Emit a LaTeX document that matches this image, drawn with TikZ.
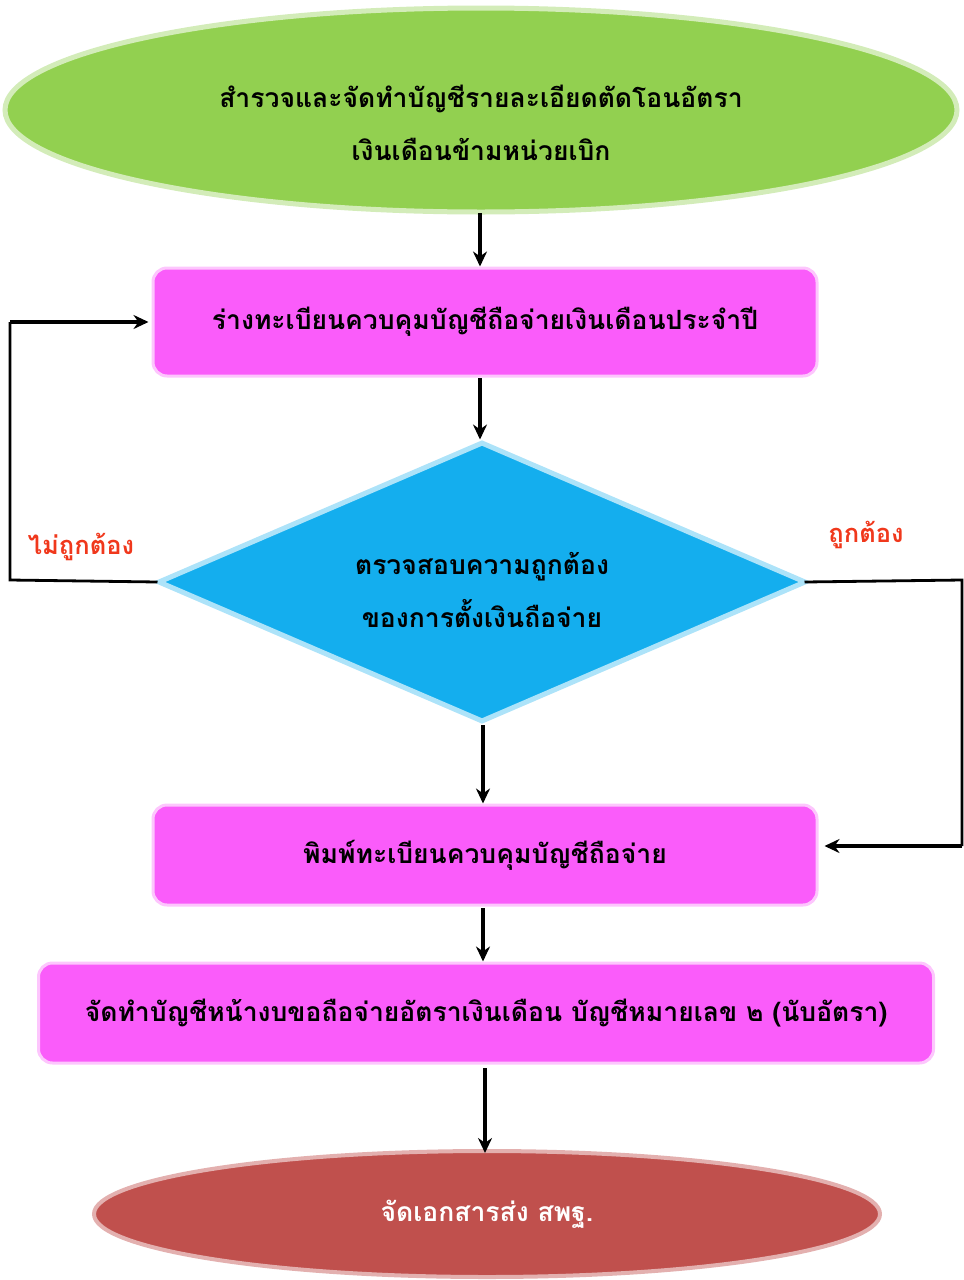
\documentclass[tikz,border=0pt]{standalone}
\usepackage{fontspec}
\newfontfamily\thaifont[Script=Thai]{Loma}
\usetikzlibrary{shapes.geometric,arrows.meta}
\definecolor{cgreen}{HTML}{92D050}
\definecolor{cmag}{HTML}{FA5CFA}
\definecolor{cblue}{HTML}{14AEEE}
\definecolor{cred}{HTML}{C0504D}
\definecolor{clabel}{HTML}{F0381C}
\tikzset{
  every node/.style={font=\thaifont\bfseries\fontsize{26.5}{53}\selectfont},
  startnode/.style={ellipse, fill=cgreen, draw=cgreen!40, line width=5pt, minimum width=952pt, minimum height=204pt, inner sep=0pt},
  procbox/.style={rectangle, rounded corners=14pt, fill=cmag, draw=cmag!35, line width=3pt, align=center},
  decnode/.style={diamond, aspect=2.3, fill=cblue, draw=cblue!35, line width=5pt, minimum width=648pt, minimum height=280pt, inner sep=0pt},
  endnode/.style={ellipse, fill=cred, draw=cred!45, line width=4pt, minimum width=786pt, minimum height=126pt, text=white},
  intext/.style={align=center, inner sep=0pt},
  flow/.style={line width=3.2pt, -{Stealth[length=15pt,width=14pt]}},
  plain/.style={line width=2.8pt},
  lbl/.style={text=clabel, font=\thaifont\bfseries\fontsize{25.5}{28}\selectfont}
}
\begin{document}
\begin{tikzpicture}[x=1pt,y=-1pt]
\useasboundingbox (0,0) rectangle (964,1280);
\node[startnode] (top) at (481,110) {};
\node[intext] (toptext) at (481,123) {สำรวจและจัดทำบัญชีรายละเอียดตัดโอนอัตรา\\เงินเดือนข้ามหน่วยเบิก};
\node[procbox, minimum width=664pt, minimum height=108pt] (b1) at (485,322) {ร่างทะเบียนควบคุมบัญชีถือจ่ายเงินเดือนประจำปี};
\node[decnode] (dec) at (482,582) {};
\node[intext] (dectext) at (482,590) {ตรวจสอบความถูกต้อง\\ของการตั้งเงินถือจ่าย};
\node[procbox, minimum width=664pt, minimum height=100pt] (b2) at (485,855) {พิมพ์ทะเบียนควบคุมบัญชีถือจ่าย};
\node[procbox, minimum width=895pt, minimum height=100pt] (b3) at (486,1013) {จัดทำบัญชีหน้างบขอถือจ่ายอัตราเงินเดือน บัญชีหมายเลข ๒ (นับอัตรา)};
\node[endnode] (end) at (487,1214) {จัดเอกสารส่ง สพฐ.};
\node[lbl] (no) at (81,547) {ไม่ถูกต้อง};
\node[lbl] (yes) at (866,535) {ถูกต้อง};
\coordinate (l1) at (10,580);
\coordinate (l2) at (10,322);
\coordinate (r1) at (962,580);
\coordinate (r2) at (962,846);
\coordinate (a1) at (480,213);
\coordinate (a2) at (480,378);
\coordinate (a3) at (483,725);
\coordinate (a4) at (483,908);
\coordinate (a5) at (485,1068);
\draw[flow] (a1) -- (a1 |- b1.north);
\draw[flow] (a2) -- (a2 |- dec.north);
\draw[flow] (a3) -- (a3 |- b2.north);
\draw[flow] (a4) -- (a4 |- b3.north);
\draw[flow] (a5) -- ([yshift=-4pt]a5 |- end.north);
\draw[plain] ([xshift=2pt]dec.west) -- (l1) -- (l2);
\draw[flow] (l2) -- ([xshift=-3pt]b1.west |- l2);
\draw[plain] ([xshift=-4pt]dec.east) -- (r1) -- (r2);
\draw[flow] (r2) -- ([xshift=6pt]b2.east |- r2);
\end{tikzpicture}
\end{document}
